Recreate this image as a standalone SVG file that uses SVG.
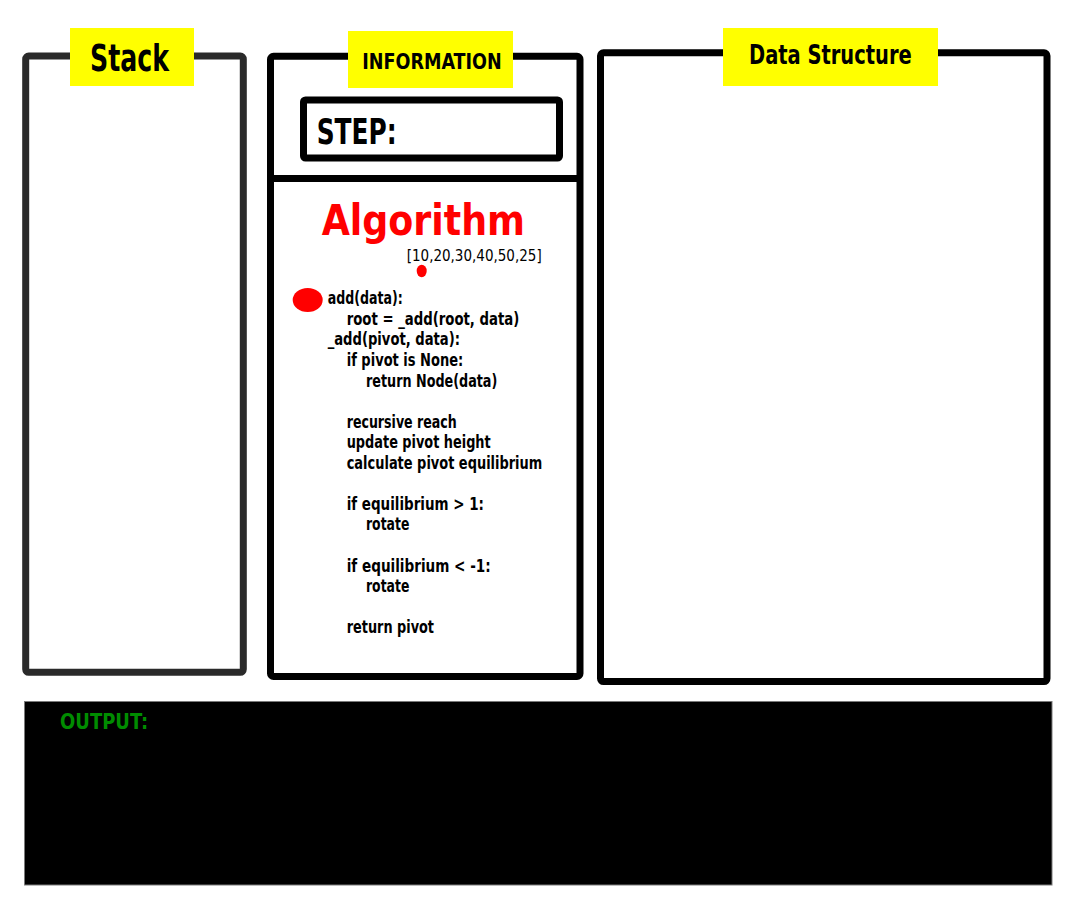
<svg xmlns="http://www.w3.org/2000/svg" width="1080" height="900" viewBox="0 0 1080 900">
<style>
.panel{fill:#fff;stroke:#000;stroke-width:7}
.label{fill:#ffff00}
.t{font-family:"DejaVu Sans Condensed","DejaVu Sans",sans-serif;font-weight:bold}
.code{font-family:"DejaVu Sans Condensed","DejaVu Sans",sans-serif;font-weight:bold;font-size:17px;fill:#000}
</style>
<rect width="1080" height="900" fill="#fff"/>
<g id="stack">
<rect x="25.7" y="56" width="217.6" height="616.3" rx="3" class="panel" style="stroke:#2a2a2a"/>
<rect x="70" y="28" width="124" height="58" class="label"/>
<text x="90" y="70.7" class="t" font-size="36.6" textLength="79" lengthAdjust="spacingAndGlyphs">Stack</text>
</g>
<g id="information">
<rect x="270.5" y="56.3" width="309.5" height="620.2" rx="3" class="panel"/>
<line x1="270.5" y1="178.5" x2="580" y2="178.5" stroke="#000" stroke-width="7"/>
<rect x="348" y="31" width="165" height="57" class="label"/>
<text x="362.3" y="69.3" class="t" font-size="22" textLength="139.4" lengthAdjust="spacingAndGlyphs">INFORMATION</text>
</g>
<g id="step">
<rect x="303.5" y="100" width="256" height="58" rx="2" fill="#fff" stroke="#000" stroke-width="7"/>
<text x="316.7" y="144.3" class="t" font-size="35.7" textLength="80" lengthAdjust="spacingAndGlyphs">STEP:</text>
</g>
<g id="algorithm">
<text x="321.7" y="235" class="t" font-size="42" fill="#ff0000" textLength="203.3" lengthAdjust="spacingAndGlyphs">Algorithm</text>
<text x="406.7" y="261.3" class="t" font-size="16.5" font-weight="normal" style="font-weight:normal" textLength="135" lengthAdjust="spacingAndGlyphs">[10,20,30,40,50,25]</text>
<ellipse cx="421.7" cy="271" rx="5" ry="6.2" fill="#ff0000"/>
<ellipse cx="307.7" cy="300" rx="15" ry="12" fill="#ff0000"/>
<text x="327.7" y="303.5" class="code" textLength="75" lengthAdjust="spacingAndGlyphs">add(data):</text>
<text x="346.7" y="324.5" class="code" textLength="172.6" lengthAdjust="spacingAndGlyphs">root = _add(root, data)</text>
<text x="327.7" y="345" class="code" textLength="132.3" lengthAdjust="spacingAndGlyphs">_add(pivot, data):</text>
<text x="346.7" y="365.7" class="code" textLength="116.6" lengthAdjust="spacingAndGlyphs">if pivot is None:</text>
<text x="366" y="386.5" class="code" textLength="131.3" lengthAdjust="spacingAndGlyphs">return Node(data)</text>
<text x="346.7" y="427.5" class="code" textLength="110" lengthAdjust="spacingAndGlyphs">recursive reach</text>
<text x="346.7" y="448.2" class="code" textLength="144" lengthAdjust="spacingAndGlyphs">update pivot height</text>
<text x="346.7" y="468.8" class="code" textLength="195.6" lengthAdjust="spacingAndGlyphs">calculate pivot equilibrium</text>
<text x="346.7" y="509.5" class="code" textLength="137.3" lengthAdjust="spacingAndGlyphs">if equilibrium &gt; 1:</text>
<text x="366" y="530.3" class="code" textLength="43.3" lengthAdjust="spacingAndGlyphs">rotate</text>
<text x="346.7" y="571.7" class="code" textLength="144" lengthAdjust="spacingAndGlyphs">if equilibrium &lt; -1:</text>
<text x="366" y="592.4" class="code" textLength="43.3" lengthAdjust="spacingAndGlyphs">rotate</text>
<text x="346.7" y="633.4" class="code" textLength="87.3" lengthAdjust="spacingAndGlyphs">return pivot</text>
</g>
<g id="data-structure">
<rect x="600.5" y="52.8" width="446.5" height="628.8" rx="3" class="panel"/>
<rect x="723" y="28" width="215" height="58" class="label"/>
<text x="749" y="64" class="t" font-size="27" textLength="162.7" lengthAdjust="spacingAndGlyphs">Data Structure</text>
</g>
<g id="output">
<rect x="24.5" y="701.5" width="1027.5" height="183.5" fill="#000" stroke="#7a7a7a" stroke-width="1"/>
<text x="60" y="729.3" class="t" font-size="22" fill="#008c00" textLength="88.3" lengthAdjust="spacingAndGlyphs">OUTPUT:</text>
</g>
<g id="connectors"/>
</svg>
